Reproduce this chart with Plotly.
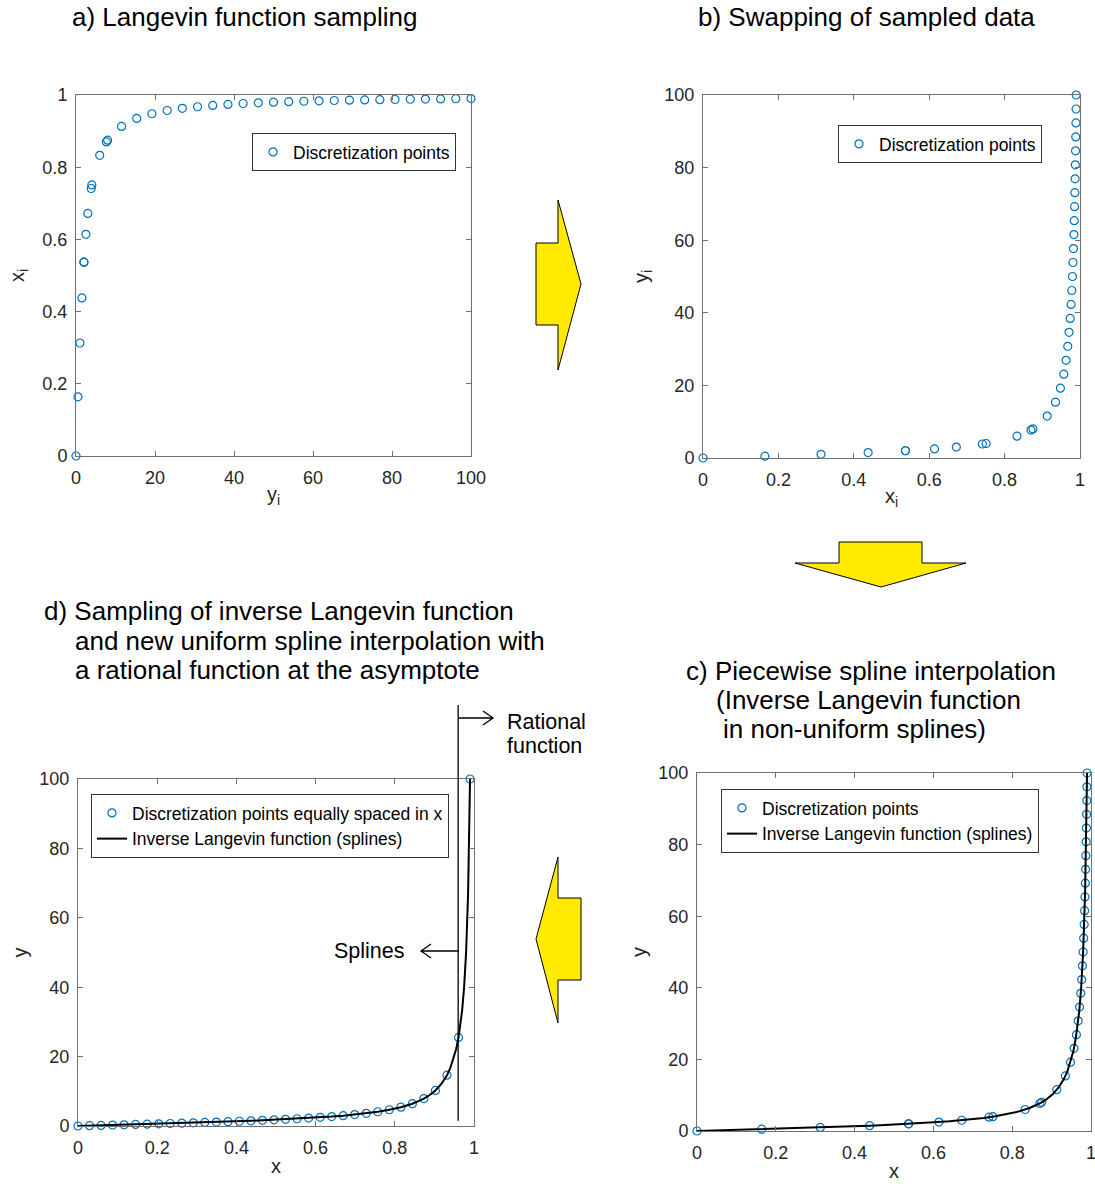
import plotly.graph_objects as go

W, H = 1095, 1184

# ---------------- data ----------------
# a) / b) sampled Langevin function: y_i (input) and x_i = L(y_i)
y_samples = [0, 0.5, 1, 1.5, 2, 2, 2.5, 3, 3.85, 4, 6, 7.69, 8, 11.54, 15.38,
             19.23, 23.08, 26.92, 30.77, 34.62, 38.46, 42.31, 46.15, 50, 53.85,
             57.69, 61.54, 65.38, 69.23, 73.08, 76.92, 80.77, 84.62, 88.46,
             92.31, 96.15, 100]
x_samples = [0, 0.164, 0.313, 0.438, 0.537, 0.537, 0.614, 0.672, 0.741, 0.751,
             0.833, 0.870, 0.875, 0.913, 0.935, 0.948, 0.957, 0.963, 0.9675,
             0.971, 0.974, 0.9764, 0.9783, 0.980, 0.9814, 0.9827, 0.9838,
             0.9847, 0.9856, 0.9863, 0.9870, 0.9876, 0.9882, 0.9887, 0.9892,
             0.9896, 0.990]

# d) points equally spaced in x
x_uniform = [0, 0.0291, 0.0582, 0.0874, 0.1165, 0.1456, 0.1747, 0.2038, 0.2329,
             0.2621, 0.2912, 0.3203, 0.3494, 0.3785, 0.4076, 0.4368, 0.4659,
             0.4950, 0.5241, 0.5532, 0.5824, 0.6115, 0.6406, 0.6697, 0.6988,
             0.7279, 0.7571, 0.7862, 0.8153, 0.8444, 0.8735, 0.9026, 0.9318,
             0.9609, 0.99]
y_uniform = [0, 0.087, 0.175, 0.263, 0.352, 0.443, 0.534, 0.627, 0.723, 0.821,
             0.922, 1.026, 1.135, 1.249, 1.368, 1.494, 1.628, 1.774, 1.928,
             2.096, 2.281, 2.486, 2.717, 2.983, 3.292, 3.660, 4.112, 4.679,
             5.418, 6.429, 7.902, 10.255, 14.638, 25.53, 100]

# inverse Langevin curve (splines + rational part near the asymptote)
x_curve = [0, 0.0291, 0.0582, 0.0874, 0.1165, 0.1456, 0.1747, 0.2038, 0.2329,
           0.2621, 0.2912, 0.3203, 0.3494, 0.3785, 0.4076, 0.4368, 0.4659,
           0.4950, 0.5241, 0.5532, 0.5824, 0.6115, 0.6406, 0.6697, 0.6988,
           0.7279, 0.7571, 0.7862, 0.8153, 0.8444, 0.8735, 0.888, 0.9026,
           0.9175, 0.9318, 0.94, 0.95, 0.955, 0.9609, 0.965, 0.97, 0.975,
           0.98, 0.985, 0.99]
y_curve = [0, 0.087, 0.175, 0.263, 0.352, 0.443, 0.534, 0.627, 0.723, 0.821,
           0.922, 1.026, 1.135, 1.249, 1.368, 1.494, 1.628, 1.774, 1.928,
           2.096, 2.281, 2.486, 2.717, 2.983, 3.292, 3.660, 4.112, 4.679,
           5.418, 6.429, 7.902, 8.921, 10.255, 12.10, 14.638, 16.64, 19.97,
           22.18, 25.53, 28.53, 33.29, 39.95, 49.95, 66.61, 100]

x_ticks_01 = [0, 0.2, 0.4, 0.6, 0.8, 1]
x_ticks_100 = [0, 20, 40, 60, 80, 100]
tick_text_01 = ["0", "0.2", "0.4", "0.6", "0.8", "1"]
tick_text_100 = ["0", "20", "40", "60", "80", "100"]
asymptote_x = 0.96

# ---------------- helpers ----------------
FONT = "Liberation Sans, Arial, Helvetica, sans-serif"
BLUE = "#0072BD"
AXC = "#707070"


def fx(p):
    return p / W


def fy(p):
    return 1 - p / H


def axis(dom, rng, tv, tt, title, standoff, is_x):
    return dict(
        domain=dom, range=rng, tickvals=tv, ticktext=tt,
        showline=True, linecolor=AXC, linewidth=1, mirror="ticks",
        ticks="inside", ticklen=5, tickcolor=AXC, tickwidth=1,
        showgrid=False, zeroline=False, automargin=False,
        ticklabeloverflow="allow",
        tickfont=dict(family=FONT, size=18, color="#262626"),
        ticklabelstandoff=5 if is_x else 4,
        title=dict(text=title, standoff=standoff,
                   font=dict(family=FONT, size=20, color="#262626")),
    )


mk = dict(symbol="circle-open", size=8, color=BLUE, line=dict(width=1.2, color=BLUE))

fig = go.Figure()

# a)
fig.add_trace(go.Scatter(x=y_samples, y=x_samples, mode="markers", marker=mk,
                         name="Discretization points", xaxis="x", yaxis="y",
                         cliponaxis=False, legend="legend"))
# b)
fig.add_trace(go.Scatter(x=x_samples, y=y_samples, mode="markers", marker=mk,
                         name="Discretization points", xaxis="x2", yaxis="y2",
                         cliponaxis=False, legend="legend2"))
# c)
fig.add_trace(go.Scatter(x=x_samples, y=y_samples, mode="markers", marker=mk,
                         name="Discretization points", xaxis="x3", yaxis="y3",
                         cliponaxis=False, legend="legend3"))
fig.add_trace(go.Scatter(x=x_curve, y=y_curve, mode="lines",
                         line=dict(color="black", width=2),
                         name="Inverse Langevin function (splines)",
                         xaxis="x3", yaxis="y3", cliponaxis=False, legend="legend3"))
# d)
fig.add_trace(go.Scatter(x=x_uniform, y=y_uniform, mode="markers", marker=mk,
                         name="Discretization points equally spaced in x",
                         xaxis="x4", yaxis="y4", cliponaxis=False, legend="legend4"))
fig.add_trace(go.Scatter(x=x_curve, y=y_curve, mode="lines",
                         line=dict(color="black", width=2),
                         name="Inverse Langevin function (splines)",
                         xaxis="x4", yaxis="y4", cliponaxis=False, legend="legend4"))

# domains (pixel boxes of the four axes)
A = dict(x=[fx(76), fx(471)], y=[fy(456), fy(95)])
B = dict(x=[fx(703), fx(1080)], y=[fy(458), fy(95)])
C = dict(x=[fx(697), fx(1091)], y=[fy(1131), fy(773)])
D = dict(x=[fx(78), fx(474)], y=[fy(1126), fy(779)])

leg_common = dict(bgcolor="white", bordercolor="#333333", borderwidth=1,
                  font=dict(family=FONT, size=17.5, color="black"),
                  xanchor="left", yanchor="top", itemwidth=30,
                  tracegroupgap=0)

layout = dict(
    width=W, height=H, margin=dict(l=0, r=0, t=0, b=0),
    paper_bgcolor="white", plot_bgcolor="white",
    font=dict(family=FONT),
    xaxis=dict(axis(A["x"], [0, 100], x_ticks_100, tick_text_100, "y<sub>i</sub>", 0, True), anchor="y"),
    yaxis=dict(axis(A["y"], [0, 1], x_ticks_01, tick_text_01, "x<sub>i</sub>", 12, False), anchor="x"),
    xaxis2=dict(axis(B["x"], [0, 1], x_ticks_01, tick_text_01, "x<sub>i</sub>", 0, True), anchor="y2"),
    yaxis2=dict(axis(B["y"], [0, 100], x_ticks_100, tick_text_100, "y<sub>i</sub>", 10, False), anchor="x2"),
    xaxis3=dict(axis(C["x"], [0, 1], x_ticks_01, tick_text_01, "x", 2, True), anchor="y3"),
    yaxis3=dict(axis(C["y"], [0, 100], x_ticks_100, tick_text_100, "y", 6, False), anchor="x3"),
    xaxis4=dict(axis(D["x"], [0, 1], x_ticks_01, tick_text_01, "x", 2, True), anchor="y4"),
    yaxis4=dict(axis(D["y"], [0, 100], x_ticks_100, tick_text_100, "y", 6, False), anchor="x4"),
    legend=dict(leg_common, x=fx(252), y=fy(133)),
    legend2=dict(leg_common, x=fx(838), y=fy(125)),
    legend3=dict(leg_common, x=fx(721), y=fy(789)),
    legend4=dict(leg_common, x=fx(91), y=fy(794)),
    showlegend=True,
)
fig.update_layout(**layout)

# ---------------- titles / texts ----------------
ann = []


def txt(s, x, y, size, anchor="left"):
    ann.append(dict(text=s, x=fx(x), y=fy(y), xref="paper", yref="paper",
                    xanchor=anchor, yanchor="middle", showarrow=False,
                    font=dict(family=FONT, size=size, color="black")))


txt("a) Langevin function sampling", 244, 17, 26, "center")
txt("b) Swapping of sampled data", 866, 17, 26, "center")
txt("c) Piecewise spline interpolation", 684, 671, 26)
txt("(Inverse Langevin function", 714, 700, 26)
txt("in non-uniform splines)", 721, 729, 26)
txt("d) Sampling of inverse Langevin function", 42, 611, 26)
txt("and new uniform spline interpolation with", 73, 641, 26)
txt("a rational function at the asymptote", 73, 670, 26)
txt("Rational", 505, 722, 21.5)
txt("function", 505, 746, 21.5)
txt("Splines", 407, 951, 21.5, "right")
fig.update_layout(annotations=ann)

# ---------------- shapes ----------------
shapes = []


def poly(pts, fill="#FFEA00"):
    path = "M " + " L ".join(f"{fx(a)},{fy(b)}" for a, b in pts) + " Z"
    shapes.append(dict(type="path", path=path, xref="paper", yref="paper",
                       fillcolor=fill, line=dict(color="black", width=1)))


poly([(536, 243), (558, 243), (558, 200), (581, 284), (558, 370), (558, 325), (536, 325)])
poly([(839, 542), (922, 542), (922, 563), (966, 563), (881, 587), (795, 563), (839, 563)])
poly([(581, 898), (558, 898), (558, 857), (536, 939), (558, 1023), (558, 980), (581, 980)])

# asymptote line in panel d (x = 0.96), extending above the axes
shapes.append(dict(type="line", xref="x4 domain", yref="y4 domain",
                   x0=asymptote_x, x1=asymptote_x, y0=0.015, y1=1.213,
                   line=dict(color="black", width=1.3)))


def arrow(x0, x1, y, head=10, half=7):
    d = 1 if x1 > x0 else -1
    path = (f"M {fx(x0)},{fy(y)} L {fx(x1)},{fy(y)} "
            f"M {fx(x1 - d * head)},{fy(y - half)} L {fx(x1)},{fy(y)} "
            f"L {fx(x1 - d * head)},{fy(y + half)}")
    shapes.append(dict(type="path", path=path, xref="paper", yref="paper",
                       line=dict(color="black", width=1.3)))


arrow(459, 493, 718)
arrow(459, 421, 951)

fig.update_layout(shapes=shapes)

fig.write_html(
    "out.html",
    config={"displayModeBar": False},
    post_script=("document.body.style.margin='0';"
                 "document.body.style.padding='0';"
                 "document.body.style.overflow='hidden';"),
)
